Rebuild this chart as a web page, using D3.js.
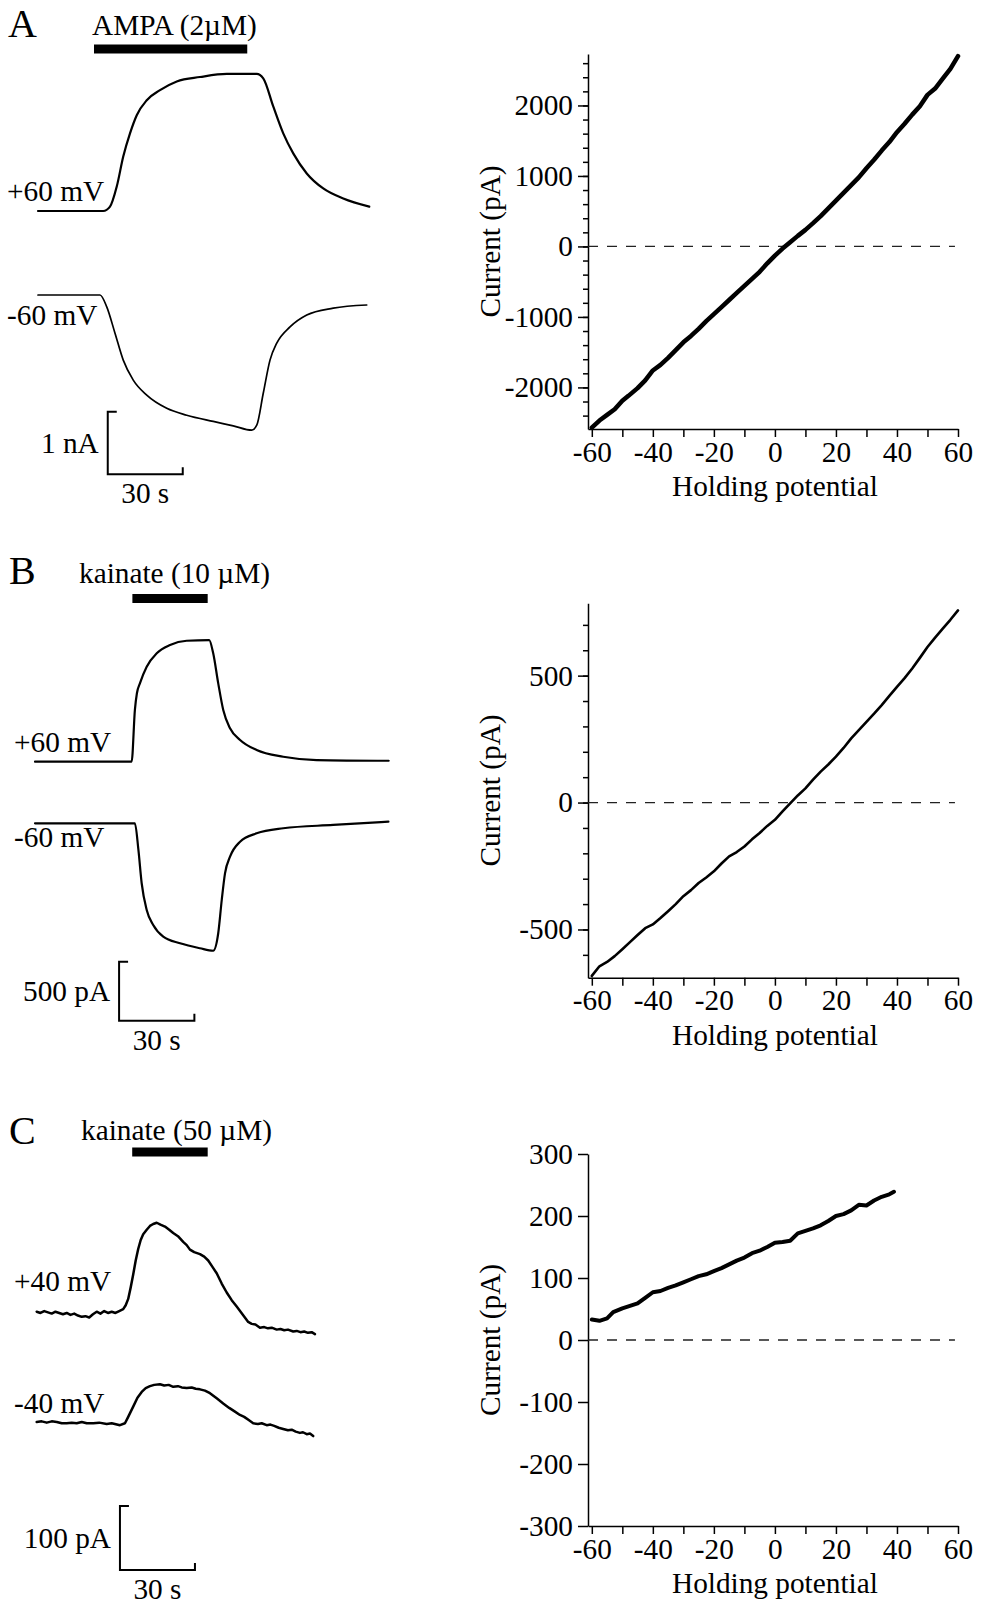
<!DOCTYPE html>
<html lang="en">
<head>
<meta charset="UTF-8">
<script src="https://d3js.org/d3.v7.min.js"></script>
<style>
    body { margin: 0; background: #fff; }
    svg text { font-family: "Liberation Serif", "Times New Roman", serif; fill: #000; }
    .trace { fill: none; stroke: #000; stroke-linejoin: round; stroke-linecap: round; }
    .iv { fill: none; stroke: #000; stroke-linejoin: round; stroke-linecap: round; }
    .zero { stroke: #222; stroke-width: 1.3; stroke-dasharray: 10 9; }
    .axis path, .axis line { stroke: #000; stroke-width: 1.5; }
    .scalebar { fill: none; stroke: #000; stroke-width: 2; }
</style>
</head>
<body>
<svg id="fig" width="986" height="1604"></svg>
<script>
// ---- A: AMPA (2 uM), time (s) / current (pA)
const tA60 = [0, 26.1, 28.8, 31.5, 34.1, 36.8, 39.5, 43.5, 48.8, 55.5, 64.8, 75.5, 87.5, 90.1, 94.1, 98.1, 102.1, 107.5, 114.1, 122.1, 132.5];
const iA60 = [0, 0, 70, 390, 870, 1240, 1530, 1770, 1930, 2070, 2140, 2190, 2190, 2120, 1670, 1240, 920, 600, 360, 200, 70];
const tAm60 = [0, 24.8, 27.5, 30.8, 34.1, 38.1, 43.5, 51.5, 59.5, 70.1, 78.1, 85.5, 87.5, 90.1, 92.8, 95.5, 100.8, 107.5, 118.1, 131.5];
const iAm60 = [0, 0, -190, -610, -1040, -1360, -1600, -1810, -1920, -2020, -2090, -2160, -2080, -1570, -1040, -770, -510, -320, -210, -160];
const barA = [22.4, 83.7];

// ---- B: kainate (10 uM)
const tB60 = [0, 38.5, 39.8, 40.6, 41.8, 44.5, 48.5, 53.8, 60.4, 69.4, 71.0, 73.0, 75.0, 77.7, 81.7, 88.3, 98.9, 112.2, 140.9];
const iB60 = [0, 0, 440, 580, 664, 805, 919, 989, 1025, 1031, 919, 664, 438, 283, 184, 99, 42, 14, 8];
const tBm60 = [0, 39.8, 41.2, 42.5, 44.5, 47.1, 51.1, 57.8, 65.7, 71.0, 73.0, 74.4, 75.7, 77.7, 81.7, 88.3, 98.9, 118.8, 140.8];
const iBm60 = [0, 0, -226, -508, -734, -862, -961, -1017, -1059, -1080, -932, -650, -424, -283, -156, -85, -42, -14, 14];
const barB = [38.8, 68.8];

// ---- C: kainate (50 uM) - noisy, so sampled more densely
const tC40 = [0, 1.5, 3, 4.5, 6, 7.5, 9, 10.5, 12, 13.5, 15, 16.5, 18, 19.5, 21, 22.5, 24, 25.5, 27, 28.5,
    30, 31.5, 33, 34.6, 35.6, 36.6, 37.6, 38.6, 39.6, 40.6, 41.6, 42.6, 44, 45.3, 46.6, 48, 49.5, 51.3, 53, 54.6,
    56.5, 58.6, 60, 61.3, 63, 65.3, 67, 68.6, 70.3, 72, 74, 76, 78, 80, 82.3, 84.6, 86, 87.5, 89.3, 91,
    92.5, 94, 96, 97.5, 99, 100.5, 102.6, 104, 105.5, 107, 108.5, 110, 111.3];
const iC40 = [0, -2, 1, -1, -3, 0, -2, -4, -2, -5, -3, -6, -8, -7, -9, -4, 0, -3, 1, -2,
    0, -2, 1, 4, 10, 20, 38, 58, 80, 98, 112, 121, 128, 134, 137, 139, 136, 133, 128, 123,
    118, 109, 104, 97, 93, 90, 86, 80, 70, 60, 44, 30, 18, 8, -4, -16, -19, -20, -25, -24,
    -26, -25, -28, -27, -29, -28, -31, -30, -32, -31, -33, -32, -35];
const tCm40 = [0, 2, 4, 6, 8, 10, 12, 14, 16, 18, 20, 22.6, 25, 28, 30, 33.3, 35.3, 36.6, 38.6, 40.3,
    42, 43.6, 45.3, 47, 49.3, 51, 52.8, 54.6, 56.5, 58, 60, 62, 63.6, 65.3, 67.3, 69.3, 72, 74.6, 77, 79,
    81.3, 83, 84.8, 86.6, 88.5, 90, 92, 93.5, 95, 96.8, 98.6, 100.5, 102, 103.6, 105.3, 106.5, 108, 109.3, 110.6];
const iCm40 = [0, 1, -1, 1, 0, -2, -2, -1, -2, 0, -2, -2, -1, -3, -2, -5, -2, 8, 24, 38,
    47, 53, 56, 58, 59, 57, 58, 55, 56, 54, 53, 54, 52, 51, 49, 45, 37, 29, 22, 17,
    11, 8, 3, -2, -3, -2, -5, -4, -6, -9, -11, -13, -12, -15, -17, -16, -19, -18, -22];
const barC = [38.2, 68.4];

// ---- I-V ramps: holding potential (mV) / current (pA)
const vA = [-60, -57.5, -55, -52.5, -50, -48, -45, -42.5, -40, -37.5, -35, -32.5, -30, -27.5, -25, -22.5, -20, -17.5, -15, -12.5, -10, -7.5, -5, -2.5, 0, 2.5, 5, 7.5, 10, 12.5, 15, 17.5, 20, 22.5, 25, 27.5, 30, 32.5, 35, 37.5, 40, 42.5, 45, 47.5, 50, 52.5, 55, 57.5, 60];
const iA = [-2570, -2470, -2390, -2310, -2190, -2120, -2010, -1900, -1760, -1680, -1580, -1470, -1360, -1270, -1170, -1060, -960, -860, -760, -660, -560, -460, -360, -240, -130, -30, 60, 150, 235, 330, 430, 540, 650, 760, 870, 980, 1110, 1230, 1360, 1480, 1620, 1740, 1870, 1990, 2150, 2240, 2380, 2520, 2700];
const vB = [-60, -57.5, -55, -52.5, -50, -47.5, -45, -42.5, -40, -37.5, -35, -32.5, -30, -27.5, -25, -22.5, -20, -17.5, -15, -12.5, -10, -7.5, -5, -2.5, 0, 2.5, 5, 7.5, 10, 12.5, 15, 17.5, 20, 22.5, 25, 27.5, 30, 32.5, 35, 37.5, 40, 42.5, 45, 47.5, 50, 52.5, 55, 57.5, 60];
const iB = [-683, -645, -628, -605, -578, -550, -522, -495, -480, -455, -428, -400, -369, -345, -317, -295, -271, -240, -212, -195, -173, -145, -120, -92, -68, -35, -3, 28, 56, 90, 122, 150, 181, 215, 253, 285, 318, 350, 384, 420, 456, 490, 528, 570, 613, 650, 685, 720, 757];
const vC = [-60, -57.5, -55, -53, -50, -47.5, -45, -42.5, -40, -37.5, -35, -32.5, -30, -27.5, -25, -22.5, -20, -17.5, -15, -12.5, -10, -7.5, -5, -2.5, 0, 2.5, 5, 7.5, 10, 12.5, 15, 17.5, 20, 22.5, 25, 27.5, 30, 32.5, 35, 37.5, 39];
const iC = [33, 31, 35, 45, 51, 55, 59, 68, 77, 79, 84, 88, 93, 98, 103, 106, 111, 116, 122, 128, 133, 140, 144, 150, 157, 158, 160, 172, 176, 180, 185, 192, 200, 203, 209, 218, 217, 225, 231, 235, 239];

// ---- tick values
const xTicks = d3.range(-60, 61, 10);
const yTicksA = [-2000, -1000, 0, 1000, 2000];
const yMinorA = d3.range(-2400, 2601, 200);
const yTicksB = [-500, 0, 500];
const yMinorB = d3.range(-600, 701, 100);
const yTicksC = [-300, -200, -100, 0, 100, 200, 300];

const svg = d3.select("#fig");
const serif = '"Liberation Serif", "Times New Roman", serif';
const fs = 29.3;

function text(x, y, s, size, anchor) {
    svg.append("text").attr("x", x).attr("y", y)
        .attr("font-size", size).attr("text-anchor", anchor || "start").text(s);
}

// left column: current traces
function tracePanel(p) {
    const x = d3.scaleLinear().domain([0, 30]).range([p.x0, p.x0 + 30 * p.pxPerS]);
    text(p.letterX, p.letterY, p.letter, 40);
    text(p.drugX, p.drugY, p.drug, fs);
    svg.append("line")
        .attr("x1", x(p.bar[0])).attr("x2", x(p.bar[1]))
        .attr("y1", p.barY).attr("y2", p.barY)
        .attr("stroke", "#000").attr("stroke-width", 9);

    p.traces.forEach(tr => {
        const y = d3.scaleLinear().domain([0, 1000]).range([tr.base, tr.base - 1000 * p.pxPerPA]);
        const line = d3.line().x(d => x(d[0])).y(d => y(d[1])).curve(p.curve);
        svg.append("path").attr("class", "trace")
            .attr("stroke-width", tr.w)
            .attr("d", line(d3.zip(tr.t, tr.i)));
        text(p.labelX, tr.labelY, tr.label, fs);
    });

    // scale bar
    const sy = d3.scaleLinear().domain([0, 1]).range([p.sbY, p.sbY - p.pxPerPA]);
    const xs = x(p.sbT), xe = x(p.sbT + p.sbS), yt = sy(p.sbPA);
    svg.append("path").attr("class", "scalebar")
        .attr("d", `M${xs + 9},${yt}H${xs}V${p.sbY}H${xe}V${p.sbY - 7}`);
    text(xs - 9, (yt + p.sbY) / 2 + 10, p.sbLabel, fs, "end");
    text((xs + xe) / 2, p.sbY + 29, "30 s", fs, "middle");
}

tracePanel({
    letter: "A", letterX: 8, letterY: 37, drug: "AMPA (2\u00b5M)", drugX: 92, drugY: 35,
    bar: barA, barY: 49, x0: 38, pxPerS: 2.5, pxPerPA: 0.0626, labelX: 7, curve: d3.curveMonotoneX,
    traces: [
        {t: tA60, i: iA60, base: 211, label: "+60 mV", labelY: 201, w: 2.2},
        {t: tAm60, i: iAm60, base: 295, label: "-60 mV", labelY: 325, w: 1.7}
    ],
    sbT: 27.9, sbS: 30, sbY: 474.3, sbPA: 1000, sbLabel: "1 nA"
});

tracePanel({
    letter: "B", letterX: 9, letterY: 584, drug: "kainate (10 \u00b5M)", drugX: 79, drugY: 583,
    bar: barB, barY: 598.5, x0: 35, pxPerS: 2.51, pxPerPA: 0.118, labelX: 14, curve: d3.curveMonotoneX,
    traces: [
        {t: tB60, i: iB60, base: 761.7, label: "+60 mV", labelY: 752, w: 2.2},
        {t: tBm60, i: iBm60, base: 823.3, label: "-60 mV", labelY: 847, w: 2.2}
    ],
    sbT: 33.5, sbS: 30, sbY: 1020.7, sbPA: 500, sbLabel: "500 pA"
});

tracePanel({
    letter: "C", letterX: 9, letterY: 1144, drug: "kainate (50 \u00b5M)", drugX: 81, drugY: 1140,
    bar: barC, barY: 1152, x0: 36.7, pxPerS: 2.5, pxPerPA: 0.64, labelX: 14, curve: d3.curveLinear,
    traces: [
        {t: tC40, i: iC40, base: 1311.7, label: "+40 mV", labelY: 1291, w: 2.5},
        {t: tCm40, i: iCm40, base: 1422, label: "-40 mV", labelY: 1413, w: 2.5}
    ],
    sbT: 33.3, sbS: 30, sbY: 1570, sbPA: 100, sbLabel: "100 pA"
});

// right column: I-V plots
const x = d3.scaleLinear().domain([-61.25, 60]).range([588, 958]);

function ivPanel(p) {
    const y = d3.scaleLinear().domain(p.domain).range([p.bottom, p.top]);

    const gx = svg.append("g").attr("class", "axis")
        .attr("transform", `translate(0,${p.bottom})`)
        .call(d3.axisBottom(x).tickValues(xTicks).tickSize(8).tickSizeOuter(0).tickPadding(4)
            .tickFormat(d => d % 20 === 0 ? String(d) : ""));
    const gy = svg.append("g").attr("class", "axis")
        .attr("transform", `translate(${x.range()[0]},0)`)
        .call(d3.axisLeft(y).tickValues(p.ticks).tickSize(10).tickSizeOuter(0).tickPadding(5)
            .tickFormat(d => String(d)));
    if (p.minor) {
        svg.append("g").attr("class", "axis")
            .attr("transform", `translate(${x.range()[0]},0)`)
            .call(d3.axisLeft(y).tickValues(p.minor).tickSize(5).tickFormat(""))
            .select(".domain").remove();
    }
    [gx, gy].forEach(g => g.attr("font-family", serif).attr("font-size", fs)
        .selectAll("text").attr("fill", "#000"));

    svg.append("line").attr("class", "zero")
        .attr("x1", x.range()[0]).attr("x2", x(59))
        .attr("y1", y(0)).attr("y2", y(0));

    svg.append("path").attr("class", "iv")
        .attr("stroke-width", p.w)
        .attr("d", d3.line().x(d => x(d[0])).y(d => y(d[1]))(d3.zip(p.v, p.i)));

    text((x(-60) + x(60)) / 2, p.bottom + 67, "Holding potential", fs, "middle");
    svg.append("text")
        .attr("transform", `translate(490,${(p.top + p.bottom) / 2}) rotate(-90)`)
        .attr("text-anchor", "middle").attr("dy", "0.35em")
        .attr("font-size", fs).text("Current (pA)");
}

ivPanel({domain: [-2590, 2730], top: 54, bottom: 429, ticks: yTicksA, minor: yMinorA, v: vA, i: iA, w: 4.5});
ivPanel({domain: [-690, 785], top: 603.3, bottom: 977.7, ticks: yTicksB, minor: yMinorB, v: vB, i: iB, w: 2.6});
ivPanel({domain: [-300, 300], top: 1154, bottom: 1526, ticks: yTicksC, minor: null, v: vC, i: iC, w: 4});
</script>
</body>
</html>
